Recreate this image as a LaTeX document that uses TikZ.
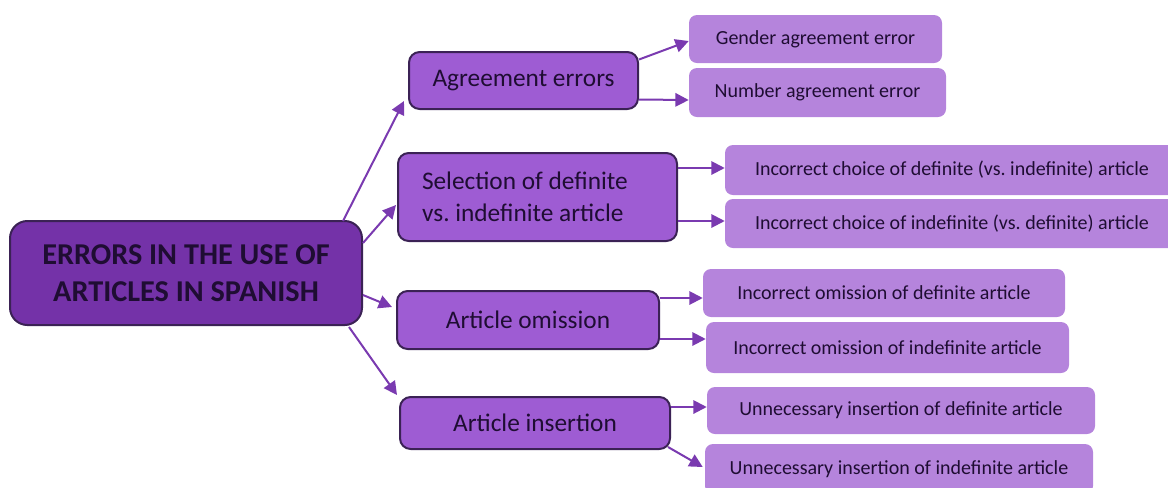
\documentclass[tikz,border=0pt]{standalone}
\usepackage{fontspec}
\setmainfont{Carlito}
\usepackage{tikz}
\usetikzlibrary{arrows.meta,calc}
\usepackage{xcolor}
\definecolor{ArtDeep}{HTML}{7432A8}
\definecolor{ArtMid}{HTML}{9E5CD3}
\definecolor{ArtLight}{HTML}{B584DC}
\definecolor{ArtEdge}{HTML}{3B2255}
\definecolor{ArtInk}{HTML}{1F0D33}
\definecolor{ArtArrow}{HTML}{7A3AB0}
\frenchspacing

\begin{document}
\begin{tikzpicture}[x=0.75pt,y=-0.75pt,
    rootbox/.style={draw=ArtEdge,line width=1.5pt,rounded corners=13pt,fill=ArtDeep,text=ArtInk,align=center,
      font=\fontsize{22.7}{28}\selectfont\bfseries,inner sep=0pt},
    catbox/.style={draw=ArtEdge,line width=1.5pt,rounded corners=8pt,fill=ArtMid,text=ArtInk,align=center,
      font=\fontsize{19}{24}\selectfont,inner sep=0pt},
    leafbox/.style={rounded corners=6pt,fill=ArtLight,text=ArtInk,align=center,
      font=\fontsize{15}{17}\selectfont,inner sep=0pt},
    arr/.style={-{Triangle[length=10pt,width=10pt]},ArtArrow,line width=1.5pt}]
    \clip (0,0) rectangle (1168,487);
    % main node and categories
    \node[rootbox,minimum width=352*0.75pt,minimum height=104*0.75pt] (root) at (186,273) {ERRORS IN THE USE OF\\ARTICLES IN SPANISH};
    \node[catbox,minimum width=229*0.75pt,minimum height=57*0.75pt] (agree) at (523.5,80.5) {Agreement errors};
    \node[catbox,minimum width=279*0.75pt,minimum height=88*0.75pt,text width=231*0.75pt,align=flush left] (select) at (537.5,197) {Selection of definite\\vs. indefinite article};
    \node[catbox,minimum width=262*0.75pt,minimum height=58*0.75pt] (omit) at (528,320) {Article omission};
    \node[catbox,minimum width=270*0.75pt,minimum height=52*0.75pt] (insert) at (535,423) {Article insertion};
    % leaves
    \node[leafbox,minimum width=253*0.75pt,minimum height=48*0.75pt] (gender) at (815.5,39) {Gender agreement error};
    \node[leafbox,minimum width=257*0.75pt,minimum height=49*0.75pt] (number) at (817.5,92.5) {Number agreement error};
    \node[leafbox,minimum width=454*0.75pt,minimum height=50*0.75pt] (cdef) at (952,170) {Incorrect choice of definite (vs. indefinite) article};
    \node[leafbox,minimum width=454*0.75pt,minimum height=49*0.75pt] (cindef) at (952,223.5) {Incorrect choice of indefinite (vs. definite) article};
    \node[leafbox,minimum width=362*0.75pt,minimum height=48*0.75pt] (odef) at (884,293) {Incorrect omission of definite article};
    \node[leafbox,minimum width=363*0.75pt,minimum height=51*0.75pt] (oindef) at (887.5,347.5) {Incorrect omission of indefinite article};
    \node[leafbox,minimum width=388*0.75pt,minimum height=47*0.75pt] (idef) at (901,410.5) {Unnecessary insertion of definite article};
    \node[leafbox,minimum width=388*0.75pt,minimum height=50*0.75pt] (iindef) at (899,469) {Unnecessary insertion of indefinite article};
    % connectors
    \draw[arr] ($(root.north east)+(-20,1)$) -- ($(agree.south west)+(-4,-9)$);
    \draw[arr] ($(root.east)+(0,-30)$) -- ($(select.west)+(-1,8)$);
    \draw[arr] ($(root.east)+(0,22)$) -- ($(omit.west)+(-4,-13)$);
    \draw[arr] ($(root.south east)+(-14,1)$) -- ($(insert.north west)+(-2,-1)$);
    \draw[arr] ($(agree.east)+(0,-21)$) -- ($(gender.west)+(0,2)$);
    \draw[arr] ($(agree.east)+(0,19)$) -- ($(number.west)+(0,7.5)$);
    \draw[arr] ($(select.east)+(0,-29)$) -- ($(cdef.west)+(0,-2)$);
    \draw[arr] ($(select.east)+(0,24)$) -- ($(cindef.west)+(0,-2.5)$);
    \draw[arr] ($(omit.east)+(0,-22)$) -- ($(odef.west)+(0,5)$);
    \draw[arr] ($(omit.east)+(0,19)$) -- ($(oindef.west)+(0,-8.5)$);
    \draw[arr] ($(insert.east)+(0,-16)$) -- ($(idef.west)+(0,-3.5)$);
    \draw[arr] ($(insert.east)+(-3,24)$) -- ($(iindef.west)+(-2,-2)$);
\end{tikzpicture}
\end{document}
